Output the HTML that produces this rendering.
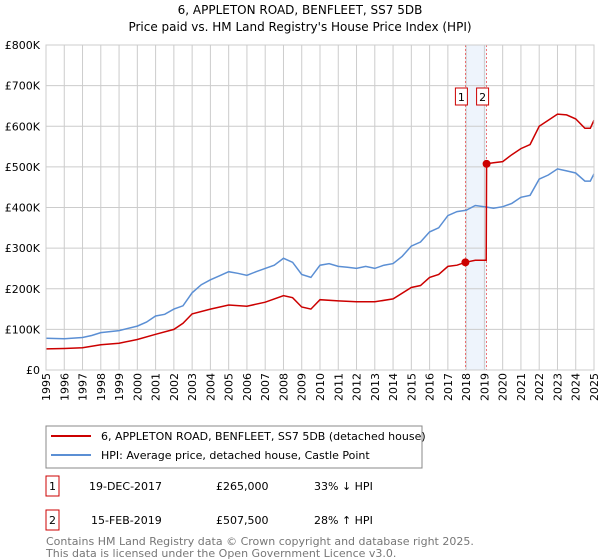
<!DOCTYPE html>
<html><head><meta charset="utf-8"><style>
body{margin:0;background:#fff;font-family:"Liberation Sans","DejaVu Sans",sans-serif;}
svg{display:block}
</style></head><body>
<svg id="c" width="600" height="560" xmlns="http://www.w3.org/2000/svg" font-family="DejaVu Sans, Liberation Sans, sans-serif">
<text x="300" y="14" text-anchor="middle" font-size="12">6, APPLETON ROAD, BENFLEET, SS7 5DB</text>
<text x="300" y="31" text-anchor="middle" font-size="12">Price paid vs. HM Land Registry's House Price Index (HPI)</text>
<g id="grid"></g><g id="plot"></g><g id="axes"></g>
<g>
<rect x="46" y="426" width="376" height="42" fill="#fff" stroke="#888"/>
<line x1="51" y1="436" x2="91" y2="436" stroke="#cc0000" stroke-width="2"/>
<text x="101" y="440" font-size="11">6, APPLETON ROAD, BENFLEET, SS7 5DB (detached house)</text>
<line x1="51" y1="455" x2="91" y2="455" stroke="#5b8fd4" stroke-width="2"/>
<text x="101" y="459" font-size="11">HPI: Average price, detached house, Castle Point</text>
</g>
<g font-size="11">
<rect x="46" y="476" width="13" height="20" fill="#fff" stroke="#cc0000"/><text x="52.5" y="490" text-anchor="middle">1</text>
<text x="89" y="490">19-DEC-2017</text><text x="216" y="490">£265,000</text><text x="314" y="490">33% ↓ HPI</text>
<rect x="46" y="510" width="13" height="20" fill="#fff" stroke="#cc0000"/><text x="52.5" y="524" text-anchor="middle">2</text>
<text x="91" y="524">15-FEB-2019</text><text x="216" y="524">£507,500</text><text x="314" y="524">28% ↑ HPI</text>
</g>
<text x="46" y="545" font-size="11" fill="#777">Contains HM Land Registry data © Crown copyright and database right 2025.</text>
<text x="46" y="557" font-size="11" fill="#777">This data is licensed under the Open Government Licence v3.0.</text>
</svg>
<script>
const hpiX=[1995,1996,1997,1997.5,1998,1999,2000,2000.5,2001,2001.5,2002,2002.5,2003,2003.5,2004,2004.5,2005,2005.5,2006,2006.5,2007,2007.5,2008,2008.5,2009,2009.5,2010,2010.5,2011,2011.5,2012,2012.5,2013,2013.5,2014,2014.5,2015,2015.5,2016,2016.5,2017,2017.5,2018,2018.5,2019,2019.5,2020,2020.5,2021,2021.5,2022,2022.5,2023,2023.5,2024,2024.5,2024.8,2025];
const hpiY=[78,77,80,85,92,97,108,118,133,137,150,158,190,210,222,232,242,238,233,242,250,258,275,265,235,228,258,262,255,253,250,255,250,258,262,280,305,315,340,350,380,390,393,405,402,398,402,410,425,430,470,480,495,490,485,465,465,483];
const propX=[1995,1996,1997,1998,1999,2000,2001,2002,2002.5,2003,2004,2005,2006,2007,2008,2008.5,2009,2009.5,2010,2011,2012,2013,2014,2015,2015.5,2016,2016.5,2017,2017.5,2017.96,2018.5,2019.1,2019.12,2019.5,2020,2020.5,2021,2021.5,2022,2022.5,2023,2023.5,2024,2024.5,2024.8,2025];
const propY=[52,53,55,62,66,75,88,100,115,138,150,160,157,167,183,178,155,150,173,170,168,168,175,203,208,228,235,255,258,265,270,270,507.5,510,513,530,545,555,600,615,630,628,618,595,595,615];
const saleX=[2017.96,2019.12];
const saleY=[265,507.5];
const saleLabels=["1","2"];
const yTicks=[0,100,200,300,400,500,600,700,800];
const yTickLabels=["£0","£100K","£200K","£300K","£400K","£500K","£600K","£700K","£800K"];
const xYears=[1995,1996,1997,1998,1999,2000,2001,2002,2003,2004,2005,2006,2007,2008,2009,2010,2011,2012,2013,2014,2015,2016,2017,2018,2019,2020,2021,2022,2023,2024,2025];

const X0=46,X1=594,Y0=370,Y1=45;
const sx=v=>X0+(v-1995)/30*(X1-X0);
const sy=v=>Y0-v/800*(Y0-Y1);
const NS="http://www.w3.org/2000/svg";
function mk(tag,parent,attrs){const e=document.createElementNS(NS,tag);for(const k in attrs)e.setAttribute(k,attrs[k]);document.getElementById(parent).appendChild(e);return e;}
let band=mk('rect','grid',{x:sx(saleX[0]),y:Y1,width:sx(saleX[1])-sx(saleX[0]),height:Y0-Y1,fill:'#eef4fc'});


xYears.forEach(y=>{const l=mk('line','grid',{x1:sx(y),x2:sx(y),y1:Y1,y2:Y0,stroke:'#ccc'});


const t=mk('text','axes',{x:0,y:0,'font-size':11,'text-anchor':'end',transform:`translate(${sx(y)+4},${Y0+3}) rotate(-90)`});t.textContent=y;

});
yTicks.forEach((v,i)=>{const l=mk('line','grid',{x1:X0,x2:X1,y1:sy(v),y2:sy(v),stroke:'#ccc'});


const t=mk('text','axes',{x:40,y:sy(v)+4,'font-size':11,'text-anchor':'end'});t.textContent=yTickLabels[i];

});
mk('rect','axes',{x:X0,y:Y1,width:X1-X0,height:Y0-Y1,fill:'none',stroke:'#ccc'});
saleX.forEach((v,i)=>{const l=mk('line','plot',{x1:sx(v),x2:sx(v),y1:Y1,y2:Y0,stroke:'#e55','stroke-dasharray':'2,2','stroke-width':0.8});

});
const pts=(xs,ys)=>xs.map((x,i)=>sx(x).toFixed(1)+','+sy(ys[i]).toFixed(1)).join(' ');
let h=mk('polyline','plot',{points:pts(hpiX,hpiY),fill:'none',stroke:'#5b8fd4','stroke-width':1.5});


let p=mk('polyline','plot',{points:pts(propX,propY),fill:'none',stroke:'#cc0000','stroke-width':1.5});


saleX.forEach((v,i)=>{const c=mk('circle','plot',{cx:sx(v),cy:sy(saleY[i]),r:4,fill:'#cc0000'});


const bx=sx(v)-10;
const r=mk('rect','plot',{x:bx,y:88,width:12,height:17,fill:'#fff',stroke:'#cc0000'});


const t=mk('text','plot',{x:bx+6,y:101,'font-size':11,'text-anchor':'middle'});t.textContent=saleLabels[i];

});
</script>
</body></html>
